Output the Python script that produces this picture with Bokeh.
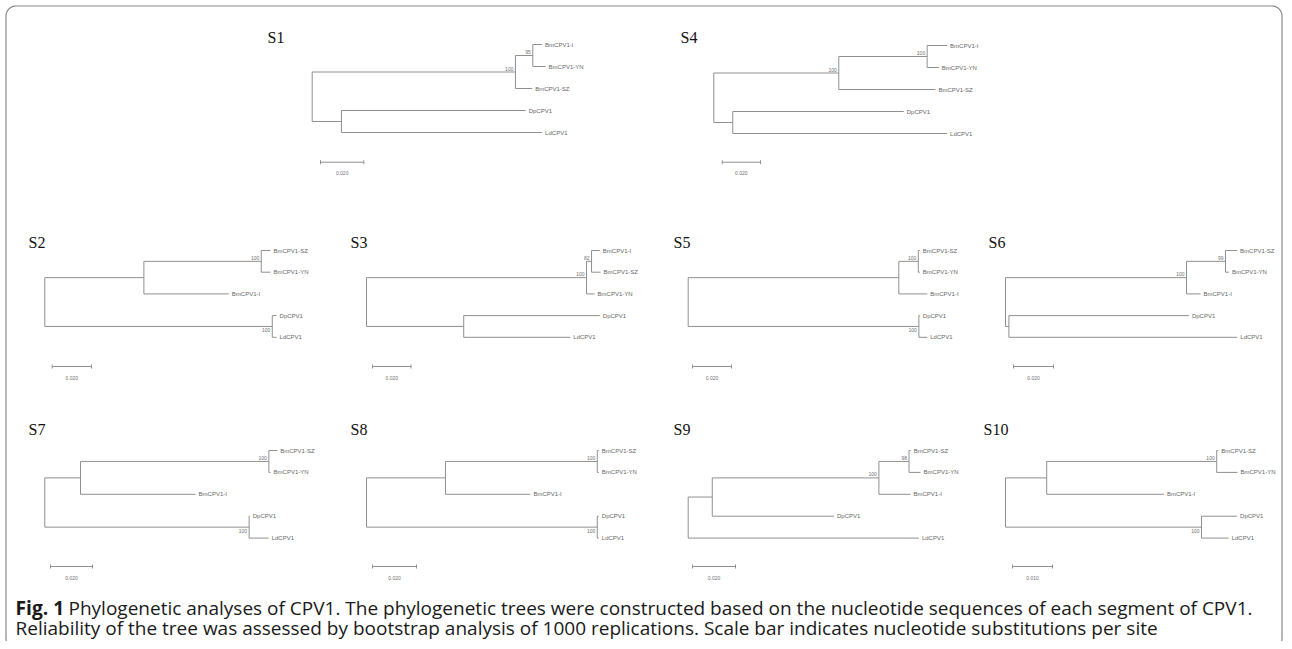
import numpy as np
from bokeh.plotting import figure
from bokeh.models import Range1d, ColumnDataSource
from bokeh.embed import file_html
from bokeh.resources import INLINE
from bokeh.core.properties import value

# ---------------- DATA ----------------
segments = ["S1", "S4", "S2", "S3", "S5", "S6", "S7", "S8", "S9", "S10"]

# Newick trees (branch lengths = nucleotide substitutions per site, internal labels = bootstrap %)
newick_S1 = "(((BmCPV1-I:0.0043,BmCPV1-YN:0.0059)95:0.0080,BmCPV1-SZ:0.0077)100:0.0938,(DpCPV1:0.0850,LdCPV1:0.0926):0.0135);"
newick_S4 = "(((BmCPV1-I:0.0104,BmCPV1-YN:0.0061)100:0.0461,BmCPV1-SZ:0.0504)100:0.0652,(DpCPV1:0.0892,LdCPV1:0.1118):0.0099);"
newick_S2 = "(((BmCPV1-SZ:0.0047,BmCPV1-YN:0.0047)100:0.0597,BmCPV1-I:0.0432):0.0504,(DpCPV1:0.0022,LdCPV1:0.0022)100:0.1157);"
newick_S3 = "(((BmCPV1-I:0.0043,BmCPV1-SZ:0.0047)82:0.0026,BmCPV1-YN:0.0042)100:0.1143,(DpCPV1:0.0707,LdCPV1:0.0554):0.0505);"
newick_S5 = "(((BmCPV1-SZ:0.0008,BmCPV1-YN:0.0008)100:0.0100,BmCPV1-I:0.0146):0.1080,(DpCPV1:0.0005,LdCPV1:0.0043)100:0.1183);"
newick_S6 = "(((BmCPV1-SZ:0.0058,BmCPV1-YN:0.0017)99:0.0195,BmCPV1-I:0.0070)100:0.0905,(DpCPV1:0.0900,LdCPV1:0.1142):0.0017);"
newick_S7 = "(((BmCPV1-SZ:0.0040,BmCPV1-YN:0.0008)100:0.0897,BmCPV1-I:0.0548):0.0170,(DpCPV1:0.0003,LdCPV1:0.0093)100:0.0973);"
newick_S8 = "(((BmCPV1-SZ:0.0007,BmCPV1-YN:0.0007)100:0.0690,BmCPV1-I:0.0386):0.0359,(DpCPV1:0.0007,LdCPV1:0.0007)100:0.1049);"
newick_S9 = "((((BmCPV1-SZ:0.0008,BmCPV1-YN:0.0054)98:0.0140,BmCPV1-I:0.0147)100:0.0775,DpCPV1:0.0566):0.0112,LdCPV1:0.1073);"
newick_S10 = "(((BmCPV1-SZ:0.0004,BmCPV1-YN:0.0052)100:0.0425,BmCPV1-I:0.0293):0.0103,(DpCPV1:0.0089,LdCPV1:0.0068)100:0.0490);"
newick = [newick_S1, newick_S4, newick_S2, newick_S3, newick_S5,
          newick_S6, newick_S7, newick_S8, newick_S9, newick_S10]

scale_bar_values = [0.020, 0.020, 0.020, 0.020, 0.020, 0.020, 0.020, 0.020, 0.020, 0.010]
scale_bar_labels = ["0.020", "0.020", "0.020", "0.020", "0.020", "0.020", "0.020", "0.020", "0.020", "0.010"]

caption_bold = "Fig. 1"
caption_line1 = ("Phylogenetic analyses of CPV1. The phylogenetic trees were constructed based on the "
                 "nucleotide sequences of each segment of CPV1.")
caption_line2 = ("Reliability of the tree was assessed by bootstrap analysis of 1000 replications. "
                 "Scale bar indicates nucleotide substitutions per site")

# ---------------- LAYOUT (picture pixels) ----------------
panel_root_x = [311.7, 713.3, 44.3, 366.0, 687.7, 1005.0, 44.3, 366.0, 687.7, 1005.0]
panel_top_y = [44.0, 45.0, 250.0, 250.0, 250.0, 250.0, 450.0, 450.0, 450.0, 450.0]
panel_leaf_dy = [22.0, 22.0, 21.7, 21.7, 21.7, 21.7, 21.9, 21.9, 21.9, 21.9]
panel_px_per_unit = [2167, 1917, 1966, 1925, 1950, 2000, 2100, 2200, 2150, 4000]
panel_bar_x = [320.0, 721.7, 51.7, 372.0, 692.0, 1013.0, 50.0, 372.0, 692.0, 1012.0]
panel_bar_y = [161.7, 161.7, 366.0, 366.0, 366.0, 366.0, 566.0, 566.0, 566.0, 566.0]
panel_title_x = [267.0, 680.0, 28.0, 350.0, 673.0, 988.0, 28.0, 350.0, 673.0, 983.0]
panel_title_y = [37.0, 37.0, 242.0, 242.0, 242.0, 242.0, 429.0, 429.0, 429.0, 429.0]

LINE_COLOR = "#909090"


def parse_newick(s):
    s = s.strip().rstrip(";")
    pos = 0

    def parse_node():
        nonlocal pos
        node = {"children": [], "name": "", "support": "", "length": 0.0}
        if s[pos] == "(":
            pos += 1
            while True:
                node["children"].append(parse_node())
                if s[pos] == ",":
                    pos += 1
                    continue
                if s[pos] == ")":
                    pos += 1
                    break
        start = pos
        while pos < len(s) and s[pos] not in ",):":
            pos += 1
        label = s[start:pos]
        if node["children"]:
            node["support"] = label
        else:
            node["name"] = label
        if pos < len(s) and s[pos] == ":":
            pos += 1
            start = pos
            while pos < len(s) and s[pos] not in ",)":
                pos += 1
            node["length"] = float(s[start:pos])
        return node

    return parse_node()


def place(node, parent_x, counter):
    node["x"] = parent_x + node["length"]
    if not node["children"]:
        node["yi"] = counter[0]
        counter[0] += 1
    else:
        for c in node["children"]:
            place(c, node["x"], counter)
        node["yi"] = 0.5 * (node["children"][0]["yi"] + node["children"][-1]["yi"])


# ---------------- FIGURE ----------------
W, H = 1284, 641
p = figure(width=W, height=H, output_backend="svg", toolbar_location=None,
           x_range=Range1d(0, W), y_range=Range1d(H, 0),
           x_axis_location=None, y_axis_location=None, min_border=0)
p.grid.visible = False
p.outline_line_color = None
p.background_fill_color = "white"
p.border_fill_color = "white"

seg = dict(x0=[], y0=[], x1=[], y1=[])
leaf = dict(x=[], y=[], t=[])
sup_up = dict(x=[], y=[], t=[])
sup_dn = dict(x=[], y=[], t=[])
bar = dict(x0=[], y0=[], x1=[], y1=[])
bar_lab = dict(x=[], y=[], t=[])
title = dict(x=panel_title_x, y=panel_title_y, t=segments)

for i, nw in enumerate(newick):
    root = parse_newick(nw)
    place(root, 0.0, [0])
    rx, ty, dy, ppu = panel_root_x[i], panel_top_y[i], panel_leaf_dy[i], panel_px_per_unit[i]

    def X(n):
        return rx + n["x"] * ppu

    def Y(n):
        return ty + n["yi"] * dy

    def walk(n, parent=None, first=True):
        if parent is not None:
            seg["x0"].append(X(parent)); seg["y0"].append(Y(n))
            seg["x1"].append(X(n)); seg["y1"].append(Y(n))
        if n["children"]:
            seg["x0"].append(X(n)); seg["y0"].append(Y(n["children"][0]))
            seg["x1"].append(X(n)); seg["y1"].append(Y(n["children"][-1]))
            if n["support"] and parent is not None:
                d = sup_up if first else sup_dn
                d["x"].append(X(n) - 2.0)
                d["y"].append(Y(n) + (-1.5 if first else 1.5))
                d["t"].append(n["support"])
            for k, c in enumerate(n["children"]):
                walk(c, n, k == 0)
        else:
            leaf["x"].append(X(n) + 3.0); leaf["y"].append(Y(n)); leaf["t"].append(n["name"])

    walk(root)

    # scale bar
    bx, by = panel_bar_x[i], panel_bar_y[i]
    blen = scale_bar_values[i] * ppu
    bar["x0"] += [bx, bx, bx + blen]
    bar["y0"] += [by, by - 2, by - 2]
    bar["x1"] += [bx + blen, bx, bx + blen]
    bar["y1"] += [by, by + 2, by + 2]
    bar_lab["x"].append(bx + blen / 2); bar_lab["y"].append(by + 11); bar_lab["t"].append(scale_bar_labels[i])

p.segment("x0", "y0", "x1", "y1", source=ColumnDataSource(seg), line_color=LINE_COLOR, line_width=1)
p.segment("x0", "y0", "x1", "y1", source=ColumnDataSource(bar), line_color=LINE_COLOR, line_width=1)

p.text("x", "y", text="t", source=ColumnDataSource(leaf), text_font=value("Liberation Sans"),
       text_font_size="6px", text_color="#666666", text_align="left", text_baseline="middle")
p.text("x", "y", text="t", source=ColumnDataSource(sup_up), text_font=value("Liberation Sans"),
       text_font_size="5px", text_color="#707070", text_align="right", text_baseline="bottom")
p.text("x", "y", text="t", source=ColumnDataSource(sup_dn), text_font=value("Liberation Sans"),
       text_font_size="5px", text_color="#707070", text_align="right", text_baseline="top")
p.text("x", "y", text="t", source=ColumnDataSource(bar_lab), text_font=value("Liberation Sans"),
       text_font_size="5px", text_color="#707070", text_align="center", text_baseline="middle")
p.text("x", "y", text="t", source=ColumnDataSource(title), text_font=value("Liberation Serif"),
       text_font_size="16px", text_color="#111111", text_align="left", text_baseline="middle")

# caption
p.text(x=[15], y=[607], text=[caption_bold], text_font=value("Open Sans"), text_font_style="bold",
       text_font_size="19.2px", text_color="#1a1a1a", text_align="left", text_baseline="middle")
p.text(x=[68], y=[607], text=[caption_line1], text_font=value("Open Sans"),
       text_font_size="19px", text_color="#1a1a1a", text_align="left", text_baseline="middle")
p.text(x=[15], y=[627], text=[caption_line2], text_font=value("Open Sans"),
       text_font_size="19px", text_color="#1a1a1a", text_align="left", text_baseline="middle")

# rounded frame around the whole figure (its bottom edge lies just below the picture)
fl, ft, fr, fb, rad = 5.5, 5.5, 1281.5, 648.0, 10.0
path_x, path_y = [], []
for cx, cy, a0, a1 in [(fl + rad, fb - rad, 0.5 * np.pi, np.pi),
                       (fl + rad, ft + rad, np.pi, 1.5 * np.pi),
                       (fr - rad, ft + rad, 1.5 * np.pi, 2 * np.pi),
                       (fr - rad, fb - rad, 0.0, 0.5 * np.pi)]:
    a = np.linspace(a0, a1, 14)
    path_x += list(cx + rad * np.cos(a))
    path_y += list(cy + rad * np.sin(a))
path_x.append(path_x[0]); path_y.append(path_y[0])
p.line(path_x, path_y, line_color="#8a8a8a", line_width=1.2)

open("out.html", "w").write(file_html(p, INLINE))
